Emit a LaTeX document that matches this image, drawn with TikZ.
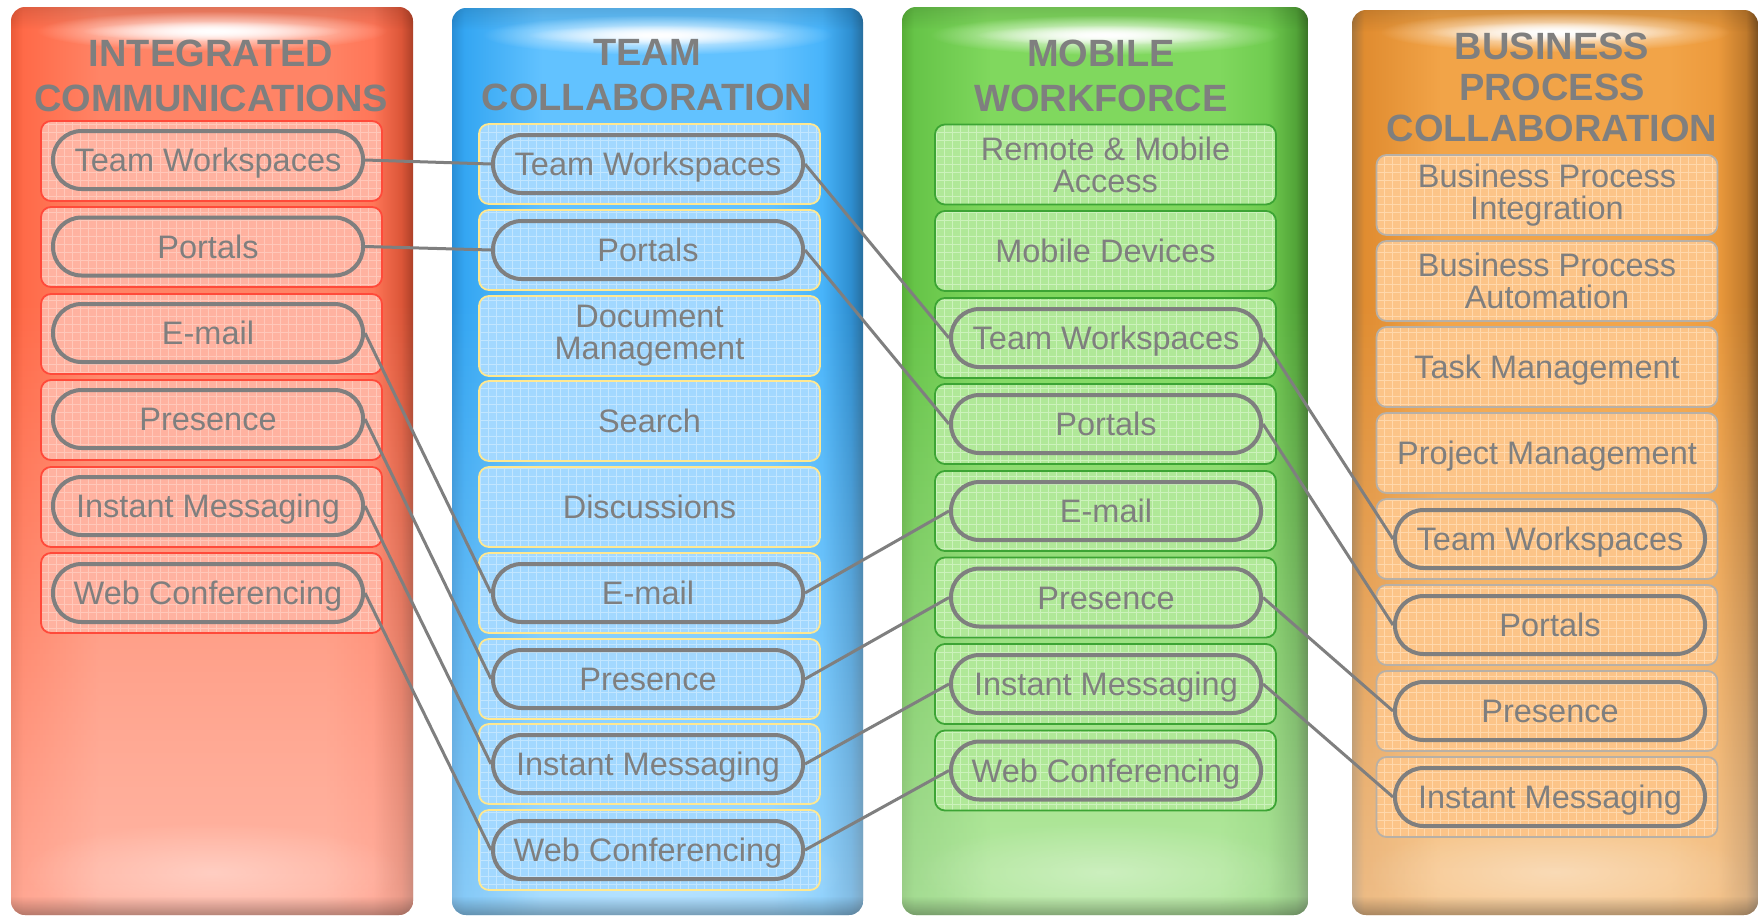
\documentclass[tikz,border=0pt]{standalone}
\usepackage{fontspec}
\setmainfont{Liberation Sans}
\usetikzlibrary{patterns.meta,fadings}

\definecolor{txt}{HTML}{7F7F7F}
% red column
\definecolor{rA}{HTML}{EA5A38}\definecolor{rB}{HTML}{FF6A48}\definecolor{rC}{HTML}{FF8466}
\definecolor{rD}{HTML}{FF7658}\definecolor{rE}{HTML}{DC5638}\definecolor{rF}{HTML}{AC4028}
% blue column
\definecolor{bA}{HTML}{2A8ED6}\definecolor{bB}{HTML}{34A6F2}\definecolor{bC}{HTML}{62C2FF}
\definecolor{bD}{HTML}{48B4FA}\definecolor{bE}{HTML}{2E8ED0}\definecolor{bF}{HTML}{276E9E}
% green column
\definecolor{gA}{HTML}{58AE38}\definecolor{gB}{HTML}{66C448}\definecolor{gC}{HTML}{80D85E}
\definecolor{gD}{HTML}{70CC50}\definecolor{gE}{HTML}{52A438}\definecolor{gF}{HTML}{3A7226}
% orange column
\definecolor{oA}{HTML}{A8763C}\definecolor{oB}{HTML}{E08C30}\definecolor{oC}{HTML}{F2A448}
\definecolor{oD}{HTML}{EC9A3C}\definecolor{oE}{HTML}{C07A2C}\definecolor{oF}{HTML}{7C5020}
% boxes
\definecolor{rfill}{HTML}{FFB2A0}\definecolor{rgrid}{HTML}{FFC8BA}\definecolor{rline}{HTML}{FF4A3A}
\definecolor{bfill}{HTML}{A2D8FF}\definecolor{bgrid}{HTML}{C2E6FF}\definecolor{bline}{HTML}{FFE890}
\definecolor{gfill}{HTML}{B0E898}\definecolor{ggrid}{HTML}{CCF2BC}\definecolor{gline}{HTML}{3CA434}
\definecolor{ofill}{HTML}{FCC488}\definecolor{ogrid}{HTML}{FFD8AC}\definecolor{oline}{HTML}{B8B0A6}

\pgfdeclarehorizontalshading{redH}{100bp}{color(0bp)=(rA); color(25bp)=(rA); color(26.5bp)=(rB); color(36bp)=(rC); color(64bp)=(rC); color(70bp)=(rD); color(73.5bp)=(rE); color(75bp)=(rF); color(100bp)=(rF)}
\pgfdeclarehorizontalshading{blueH}{100bp}{color(0bp)=(bA); color(25bp)=(bA); color(26.5bp)=(bB); color(36bp)=(bC); color(64bp)=(bC); color(70bp)=(bD); color(73.5bp)=(bE); color(75bp)=(bF); color(100bp)=(bF)}
\pgfdeclarehorizontalshading{greenH}{100bp}{color(0bp)=(gA); color(25bp)=(gA); color(26.5bp)=(gB); color(36bp)=(gC); color(64bp)=(gC); color(70bp)=(gD); color(73.5bp)=(gE); color(75bp)=(gF); color(100bp)=(gF)}
\pgfdeclarehorizontalshading{orangeH}{100bp}{color(0bp)=(oA); color(25bp)=(oA); color(26.5bp)=(oB); color(36bp)=(oC); color(64bp)=(oC); color(70bp)=(oD); color(73.5bp)=(oE); color(75bp)=(oF); color(100bp)=(oF)}

\tikzfading[name=liftfade, top color=transparent!100, bottom color=transparent!58]
\tikzfading[name=downfade, top color=transparent!100, bottom color=transparent!0]
\tikzfading[name=topfade, top color=transparent!0, bottom color=transparent!100]
\tikzfading[name=glowfade, inner color=transparent!0, outer color=transparent!100]

\newcommand{\glosscol}[5]{%
  \begin{scope}
    \clip[rounded corners=14pt] (#1,#3) rectangle (#2,915);
    \shade[shading=#4] (#1,#3) rectangle (#2,916);
    \fill[white, path fading=liftfade] (#1,300) rectangle (#2,916);
    \fill[white, fill opacity=0.35, path fading=glowfade] ({(#1+#2)/2},872) ellipse [x radius=190, y radius=50];
    \fill[black, fill opacity=0.3, path fading=downfade] (#1,896) rectangle (#2,916);
    \fill[black, fill opacity=0.12, path fading=topfade] (#1,#3) rectangle (#2,{#3+22});
    \fill[white, path fading=glowfade] ({(#1+#2)/2},#5) ellipse [x radius=175, y radius=20];
    \fill[white, path fading=glowfade] ({(#1+#2)/2},#5) ellipse [x radius=130, y radius=10];
  \end{scope}}

\tikzset{
  title/.style={font=\bfseries\fontsize{38}{45}\selectfont, text=txt, align=center, inner sep=0pt},
  cellbox/.style={rectangle, rounded corners=10pt, minimum width=341pt, minimum height=80pt, inner sep=0pt,
     line width=1.8pt, font=\fontsize{32.5}{32}\selectfont, text=txt, align=center},
  gridpat/.style={pattern={Hatch[angle=0,distance=8pt,line width=0.6pt]}},
  redcell/.style={cellbox, draw=rline, preaction={fill=rfill}, gridpat, pattern color=rgrid},
  bluecell/.style={cellbox, draw=bline, preaction={fill=bfill}, gridpat, pattern color=bgrid},
  greencell/.style={cellbox, draw=gline, preaction={fill=gfill}, gridpat, pattern color=ggrid},
  orangecell/.style={cellbox, draw=oline, preaction={fill=ofill}, gridpat, pattern color=ogrid},
  pill/.style={rectangle, rounded corners=28.5pt, draw=txt, line width=4pt, minimum width=310pt, minimum height=58pt,
     inner sep=0pt, font=\fontsize{32.5}{32}\selectfont, text=txt, text height=30.5pt, text depth=7pt},
  conn/.style={draw=txt, line width=3pt},
  one/.style={text height=30.5pt, text depth=7pt}
}

\begin{document}
\begin{tikzpicture}[x=1pt,y=-1pt]
\useasboundingbox (0,0) rectangle (1758,916);

% columns
\glosscol{11}{413}{7}{redH}{31}
\glosscol{452}{863}{8}{blueH}{35}
\glosscol{902}{1308}{7}{greenH}{35}
\glosscol{1352}{1758}{10}{orangeH}{32}

% titles
\node[title] (t1) at (211,75.5) {INTEGRATED\\COMMUNICATIONS};
\node[title] (t2) at (647,75.5) {TEAM\\COLLABORATION};
\node[title] (t3) at (1101,75.5) {MOBILE\\WORKFORCE};
\node[title, font=\bfseries\fontsize{38}{41}\selectfont] (t4) at (1552,87.5) {BUSINESS\\PROCESS\\COLLABORATION};

% red boxes
\node[redcell] (rb1) at (211.5,161) {};
\node[redcell] (rb2) at (211.5,247) {};
\node[redcell] (rb3) at (211.5,334) {};
\node[redcell] (rb4) at (211.5,420) {};
\node[redcell] (rb5) at (211.5,507) {};
\node[redcell] (rb6) at (211.5,593) {};

% blue boxes
\node[bluecell] (bb1) at (649.5,164) {};
\node[bluecell] (bb2) at (649.5,250) {};
\node[bluecell] (bb3) at (649.5,336) {Document\\Management};
\node[bluecell, one] (bb4) at (649.5,421) {Search};
\node[bluecell, one] (bb5) at (649.5,507) {Discussions};
\node[bluecell] (bb6) at (649.5,593) {};
\node[bluecell] (bb7) at (649.5,679) {};
\node[bluecell] (bb8) at (649.5,764) {};
\node[bluecell] (bb9) at (649.5,850) {};

% green boxes
\node[greencell] (gb1) at (1105.5,164.5) {Remote \& Mobile\\Access};
\node[greencell, one] (gb2) at (1105.5,251) {Mobile Devices};
\node[greencell] (gb3) at (1105.5,338) {};
\node[greencell] (gb4) at (1105.5,424) {};
\node[greencell] (gb5) at (1105.5,511) {};
\node[greencell] (gb6) at (1105.5,597.5) {};
\node[greencell] (gb7) at (1105.5,684) {};
\node[greencell] (gb8) at (1105.5,770.5) {};

% orange boxes
\node[orangecell] (ob1) at (1547,195) {Business Process\\Integration};
\node[orangecell] (ob2) at (1547,281) {Business Process\\Automation};
\node[orangecell, one] (ob3) at (1547,367) {Task Management};
\node[orangecell, one] (ob4) at (1547,453) {Project Management};
\node[orangecell] (ob5) at (1547,539) {};
\node[orangecell] (ob6) at (1547,625) {};
\node[orangecell] (ob7) at (1547,711) {};
\node[orangecell] (ob8) at (1547,797) {};

% pills
\node[pill] (r1) at (208,160) {Team Workspaces};
\node[pill] (r2) at (208,246.5) {Portals};
\node[pill] (r3) at (208,333) {E-mail};
\node[pill] (r4) at (208,419) {Presence};
\node[pill] (r5) at (208,506) {Instant Messaging};
\node[pill] (r6) at (208,593) {Web Conferencing};

\node[pill] (b1) at (648,164) {Team Workspaces};
\node[pill] (b2) at (648,250) {Portals};
\node[pill] (b6) at (648,593) {E-mail};
\node[pill] (b7) at (648,679) {Presence};
\node[pill] (b8) at (648,764) {Instant Messaging};
\node[pill] (b9) at (648,850) {Web Conferencing};

\node[pill] (g3) at (1106,338) {Team Workspaces};
\node[pill] (g4) at (1106,424) {Portals};
\node[pill] (g5) at (1106,511) {E-mail};
\node[pill] (g6) at (1106,597.5) {Presence};
\node[pill] (g7) at (1106,684) {Instant Messaging};
\node[pill] (g8) at (1106,770.5) {Web Conferencing};

\node[pill] (o5) at (1550,539) {Team Workspaces};
\node[pill] (o6) at (1550,625) {Portals};
\node[pill] (o7) at (1550,711) {Presence};
\node[pill] (o8) at (1550,797) {Instant Messaging};

% connectors
\draw[conn] (r1.east) -- (b1.west);
\draw[conn] (r2.east) -- (b2.west);
\draw[conn] (r3.east) -- (b6.west);
\draw[conn] (r4.east) -- (b7.west);
\draw[conn] (r5.east) -- (b8.west);
\draw[conn] (r6.east) -- (b9.west);

\draw[conn] (b1.east) -- (g3.west);
\draw[conn] (b2.east) -- (g4.west);
\draw[conn] (b6.east) -- (g5.west);
\draw[conn] (b7.east) -- (g6.west);
\draw[conn] (b8.east) -- (g7.west);
\draw[conn] (b9.east) -- (g8.west);

\draw[conn] (g3.east) -- (o5.west);
\draw[conn] (g4.east) -- (o6.west);
\draw[conn] (g6.east) -- (o7.west);
\draw[conn] (g7.east) -- (o8.west);
\end{tikzpicture}
\end{document}
